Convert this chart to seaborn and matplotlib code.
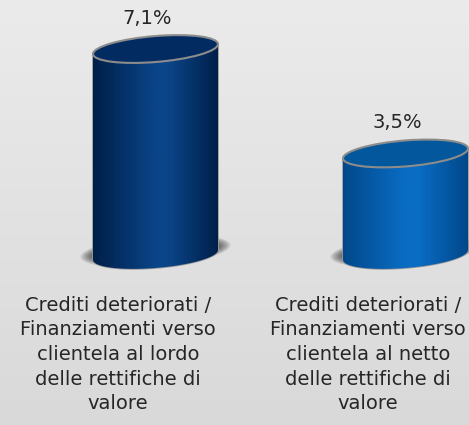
import numpy as np
import matplotlib
matplotlib.use("Agg")
import matplotlib.pyplot as plt
import matplotlib.transforms as mtransforms
from matplotlib.patches import Ellipse, Polygon
from matplotlib.colors import LinearSegmentedColormap
import seaborn as sns

categories = [
    "Crediti deteriorati /\nFinanziamenti verso\nclientela al lordo\ndelle rettifiche di\nvalore",
    "Crediti deteriorati /\nFinanziamenti verso\nclientela al netto\ndelle rettifiche di\nvalore",
]
values = [7.1, 3.5]
value_labels = ["7,1%", "3,5%"]
edge_colors = ["#001f48", "#01488a"]
mid_colors = ["#0b4589", "#0a6dc4"]
top_colors = ["#022b61", "#03579c"]

sns.set_theme(style="white")
plt.rcParams["font.family"] = ["DejaVu Sans"]

fig = plt.figure(figsize=(4.69, 4.25), dpi=100)

# soft grey background
bg = fig.add_axes([0, 0, 1, 1], zorder=-1)
bg.imshow(np.linspace(0, 1, 256).reshape(-1, 1), aspect="auto", extent=[0, 1, 0, 1],
          cmap=LinearSegmentedColormap.from_list("bg", ["#ebebeb", "#d9d9d9"]))
bg.axis("off")

ax = fig.add_axes([0, 135 / 425, 1, 290 / 425])
ax.patch.set_alpha(0)
sns.barplot(x=categories, y=values, hue=categories, palette=edge_colors,
            width=0.5, legend=False, ax=ax)
ax.set_xlim(-0.472, 1.404)
ax.set_ylim(-1.207, 8.79)
sns.despine(ax=ax, left=True, bottom=True)
ax.set_yticks([])
ax.set_xlabel("")
ax.set_ylabel("")
ax.tick_params(axis="x", length=0, pad=4, labelsize=14, labelcolor="#262626")
for lbl in ax.get_xticklabels():
    lbl.set_linespacing(1.38)

depth = 0.15  # 3D perspective shift of the cylinders
ell_h, tilt = 26, 4.5
skew = mtransforms.Affine2D().skew_deg(0, tilt)
t = np.linspace(np.pi, 2 * np.pi, 60)

for i, p in enumerate(ax.patches):
    p.set_x(p.get_x() + depth)
    p.set_visible(False)
    x0, w, h = p.get_x(), p.get_width(), p.get_height()
    cx = x0 + w / 2
    (xl, yb), (xr, yt) = ax.transData.transform([(x0, 0), (x0 + w, h)])
    a, H = (xr - xl) / 2, yt - yb

    cmap = LinearSegmentedColormap.from_list(
        f"cyl{i}", [(0, edge_colors[i]), (0.5, mid_colors[i]), (0.6, mid_colors[i]), (1, edge_colors[i])])
    base = skew + mtransforms.ScaledTranslation(cx, 0, ax.transData)

    # soft shadow around the foot of the cylinder
    for k in range(10):
        ax.add_patch(Ellipse((0, 4), 2 * a + 2 + 2.6 * k, ell_h - 6 + 1.2 * k,
                             facecolor="black", edgecolor="none", alpha=0.07,
                             transform=base, zorder=1))

    # cylinder body: sides plus the front half of the base
    outline = np.vstack([np.column_stack([a * np.cos(t), ell_h / 2 * np.sin(t)]),
                         [(a, H), (-a, H)]])
    body = Polygon(outline, closed=True, facecolor=edge_colors[i], edgecolor="#9a9a9a",
                   linewidth=1.2, transform=base, zorder=1.8)
    ax.add_patch(body)
    im = ax.imshow(np.linspace(0, 1, 256).reshape(1, -1), extent=[x0, x0 + w, -2, h + 2],
                   aspect="auto", cmap=cmap, zorder=2)
    im.set_clip_path(body)

    ax.add_patch(Ellipse((0, H), 2 * a, ell_h, facecolor=top_colors[i],
                         edgecolor="#8c8c8c", linewidth=1.5, transform=base, zorder=3))

    ax.annotate(value_labels[i], (cx, h), xytext=(-6, 22), textcoords="offset points",
                ha="center", va="center", fontsize=14, color="#262626", zorder=4)

ax.set_xlim(-0.472, 1.404)
ax.set_ylim(-1.207, 8.79)

fig.savefig("out.png", dpi=100)
